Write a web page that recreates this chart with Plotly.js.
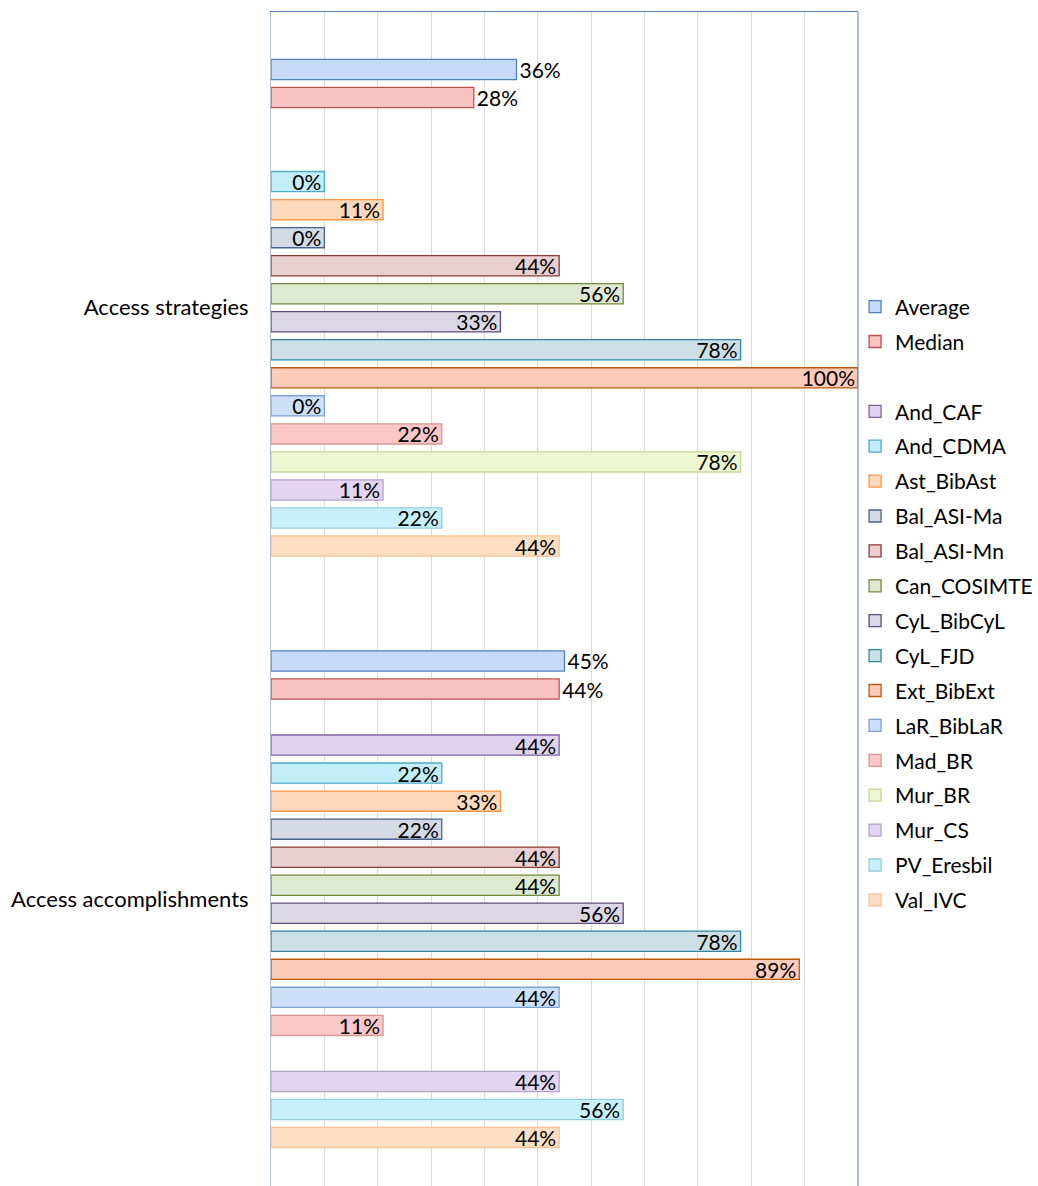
<!DOCTYPE html>
<html>
<head>
<meta charset="utf-8">
<script src="https://cdn.plot.ly/plotly-3.0.1.min.js"></script>
<style>
  html, body { margin: 0; padding: 0; background: #fff; overflow: hidden; }
  #chart { width: 1038px; height: 1200px; }
</style>
</head>
<body>
<div id="chart"></div>
<script>
// ---- data ----
const categories = ['Access strategies', 'Access accomplishments'];

const average    = [0.36, 0.45];
const median     = [0.28, 0.44];
const blankSeries = [null, null];
const andCAF     = [null, 0.44];
const andCDMA    = [0.00, 0.22];
const astBibAst  = [0.11, 0.33];
const balASIMa   = [0.00, 0.22];
const balASIMn   = [0.44, 0.44];
const canCOSIMTE = [0.56, 0.44];
const cylBibCyL  = [0.33, 0.56];
const cylFJD     = [0.78, 0.78];
const extBibExt  = [1.00, 0.89];
const larBibLaR  = [0.00, 0.44];
const madBR      = [0.22, 0.11];
const murBR      = [0.78, null];
const murCS      = [0.11, 0.44];
const pvEresbil  = [0.22, 0.56];
const valIVC     = [0.44, 0.44];

const seriesNames = ['Average', 'Median', ' ', 'And_CAF', 'And_CDMA', 'Ast_BibAst', 'Bal_ASI-Ma',
  'Bal_ASI-Mn', 'Can_COSIMTE', 'CyL_BibCyL', 'CyL_FJD', 'Ext_BibExt', 'LaR_BibLaR',
  'Mad_BR', 'Mur_BR', 'Mur_CS', 'PV_Eresbil', 'Val_IVC'];
const seriesValues = [average, median, blankSeries, andCAF, andCDMA, astBibAst, balASIMa,
  balASIMn, canCOSIMTE, cylBibCyL, cylFJD, extBibExt, larBibLaR,
  madBR, murBR, murCS, pvEresbil, valIVC];

// ---- styles ----
const fills = ['#c6d9f7', '#f9c3c2', 'rgba(0,0,0,0)', '#dfd2ee', '#c2eef9', '#fdd9bb', '#d3d9e5',
  '#e9cfcf', '#dfe8d0', '#dcd7e5', '#cddfe6', '#fdcbb9', '#cddff9',
  '#fbc7c7', '#ecf7d2', '#e1d5f1', '#c6f1fb', '#fddec3'];
const borders = ['#4f81bd', '#c0504d', 'rgba(0,0,0,0)', '#8064a2', '#4bacc6', '#f79646', '#4a6288',
  '#8c3836', '#6f8a3a', '#5c4a7a', '#31859c', '#c0580e', '#7ba0d4',
  '#da9694', '#c3d69b', '#b3a2c7', '#93cddd', '#fac090'];

const axisMin = -0.1;
const FONT = 'Lato, "Open Sans", sans-serif';

const traces = seriesNames.map((name, i) => {
  const vals = seriesValues[i];
  const outside = (i < 2);
  return {
    type: 'bar',
    orientation: 'h',
    name: name,
    y: categories,
    x: vals.map(v => v == null ? null : v - axisMin),
    base: axisMin,
    text: vals.map(v => v == null ? '' : Math.round(v * 100) + '%'),
    textposition: outside ? 'outside' : 'inside',
    insidetextanchor: 'end',
    constraintext: 'none',
    cliponaxis: false,
    textfont: { family: FONT, size: 21, color: '#000' },
    insidetextfont: { family: FONT, size: 21, color: '#000' },
    outsidetextfont: { family: FONT, size: 21, color: '#000' },
    marker: { color: fills[i], line: { color: borders[i], width: 1.3 } },
    legendgroup: 'g' + i,
    showlegend: true,
    hoverinfo: 'skip'
  };
});

const layout = {
  width: 1038,
  height: 1200,
  margin: { l: 271, r: 180, t: 12, b: 5, autoexpand: false },
  paper_bgcolor: '#ffffff',
  plot_bgcolor: '#ffffff',
  barmode: 'group',
  bargap: 0.147,
  bargroupgap: 0.28,
  font: { family: FONT, size: 22, color: '#000' },
  showlegend: true,
  legend: {
    x: 0.995, xanchor: 'left',
    y: 0.768, yanchor: 'top',
    traceorder: 'grouped',
    tracegroupgap: 4.6,
    font: { family: FONT, size: 21, color: '#000' },
    bgcolor: 'rgba(0,0,0,0)',
    borderwidth: 0
  },
  xaxis: {
    range: [axisMin, 1.0],
    tick0: axisMin,
    dtick: 0.1,
    side: 'top',
    showticklabels: false,
    ticks: '',
    showgrid: true,
    gridcolor: '#d9d9d9',
    gridwidth: 1,
    zeroline: false,
    showline: true,
    linecolor: '#4f81bd',
    linewidth: 1,
    fixedrange: true
  },
  yaxis: {
    type: 'category',
    autorange: 'reversed',
    showline: true,
    linecolor: '#b4c0d0',
    linewidth: 1,
    ticks: '',
    ticklabelstandoff: 17,
    tickfont: { family: FONT, size: 22, color: '#000' },
    showgrid: false,
    zeroline: false,
    fixedrange: true
  },
  shapes: [{
    type: 'line', xref: 'paper', yref: 'paper',
    x0: 1, x1: 1, y0: 0, y1: 1,
    line: { color: '#4f81bd', width: 1 }
  }]
};

Plotly.newPlot('chart', traces, layout, { displayModeBar: false, staticPlot: true });
</script>
</body>
</html>
